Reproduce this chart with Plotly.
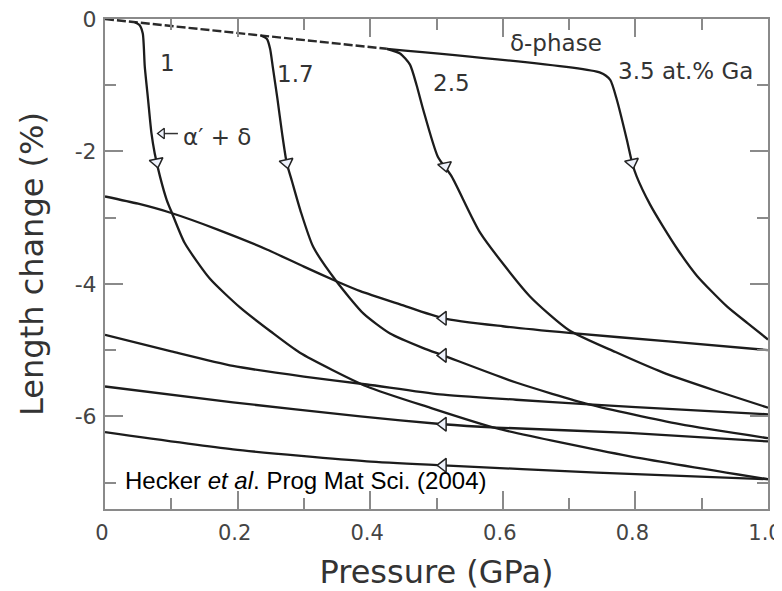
import plotly.graph_objects as go

# ---------------- data ----------------
# delta-phase compression line shared by all alloys (dashed part)
delta_x = [0.0, 0.425]
delta_y = [0.0, -0.45]

# loading curves (at.% Ga)
ga1_x = [0.045, 0.052, 0.057, 0.060, 0.065, 0.070, 0.075, 0.083, 0.093, 0.101, 0.120, 0.158, 0.204, 0.250, 0.294, 0.395, 0.49, 0.59, 0.79, 1.0]
ga1_y = [-0.05, -0.09, -0.22, -0.72, -1.22, -1.72, -2.03, -2.38, -2.73, -2.93, -3.38, -3.92, -4.36, -4.72, -5.04, -5.55, -5.87, -6.18, -6.60, -6.95]

ga17_x = [0.235, 0.244, 0.249, 0.253, 0.260, 0.267, 0.274, 0.282, 0.295, 0.314, 0.349, 0.39, 0.43, 0.48, 0.51, 0.62, 0.73, 0.867, 1.0]
ga17_y = [-0.25, -0.30, -0.45, -0.72, -1.20, -1.72, -2.17, -2.45, -2.90, -3.44, -3.96, -4.45, -4.75, -4.97, -5.08, -5.49, -5.82, -6.12, -6.33]

ga25_x = [0.425, 0.445, 0.460, 0.470, 0.480, 0.502, 0.523, 0.566, 0.641, 0.70, 0.77, 0.842, 0.92, 1.0]
ga25_y = [-0.45, -0.52, -0.69, -1.00, -1.37, -2.08, -2.38, -3.23, -4.19, -4.70, -5.03, -5.34, -5.61, -5.87]

ga35_x = [0.425, 0.747, 0.762, 0.772, 0.787, 0.795, 0.802, 0.822, 0.842, 0.865, 0.893, 0.938, 0.97, 1.0]
ga35_y = [-0.45, -0.81, -0.92, -1.22, -1.82, -2.17, -2.38, -2.80, -3.14, -3.50, -3.88, -4.34, -4.60, -4.84]

# unloading curves
ret_a_x = [0.0, 0.05, 0.1, 0.17, 0.244, 0.3, 0.349, 0.385, 0.445, 0.51, 0.6, 0.70, 0.85, 1.0]
ret_a_y = [-2.68, -2.79, -2.93, -3.18, -3.48, -3.74, -3.96, -4.11, -4.31, -4.52, -4.64, -4.74, -4.87, -5.00]

ret_b_x = [0.0, 0.1, 0.193, 0.3, 0.395, 0.505, 0.62, 0.73, 0.87, 1.0]
ret_b_y = [-4.77, -5.02, -5.24, -5.40, -5.52, -5.67, -5.75, -5.82, -5.90, -5.97]

ret_c_x = [0.0, 0.193, 0.385, 0.51, 0.59, 0.79, 1.0]
ret_c_y = [-5.55, -5.79, -6.00, -6.12, -6.17, -6.25, -6.38]

ret_d_x = [0.0, 0.193, 0.395, 0.51, 0.742, 1.0]
ret_d_y = [-6.24, -6.50, -6.68, -6.74, -6.85, -6.95]

# direction arrows
down_arrow_x = [0.078, 0.274, 0.513, 0.795]
down_arrow_y = [-2.16, -2.17, -2.22, -2.17]
left_arrow_x = [0.51, 0.51, 0.51, 0.51]
left_arrow_y = [-4.52, -5.08, -6.12, -6.74]

# text labels
label_text = ["1", "1.7", "2.5", "3.5 at.% Ga", "δ-phase", "α′ + δ"]
label_x = [0.094, 0.288, 0.522, 0.875, 0.68, 0.169]
label_y = [-0.66, -0.83, -0.97, -0.78, -0.36, -1.78]

# axis ticks
x_tickvals = [0.0, 0.2, 0.4, 0.6, 0.8, 1.0]
x_ticktext = ["0", "0.2", "0.4", "0.6", "0.8", "1.0"]
y_tickvals = [0, -2, -4, -6]
y_ticktext = ["0", "-2", "-4", "-6"]

# ---------------- figure ----------------
LINE = dict(color="#1c1c1c", width=2.3, shape="spline", smoothing=0.6)
AX = "#8a8a8a"
TXT = "#333333"
FONT = "DejaVu Sans"

fig = go.Figure()

fig.add_trace(go.Scatter(x=delta_x, y=delta_y, mode="lines",
                         line=dict(color="#2a2a2a", width=2.4, dash="9px,3px"),
                         showlegend=False, hoverinfo="skip"))
for xs, ys in [(ga1_x, ga1_y), (ga17_x, ga17_y), (ga25_x, ga25_y), (ga35_x, ga35_y),
               (ret_a_x, ret_a_y), (ret_b_x, ret_b_y), (ret_c_x, ret_c_y), (ret_d_x, ret_d_y)]:
    fig.add_trace(go.Scatter(x=xs, y=ys, mode="lines", line=LINE,
                             showlegend=False, hoverinfo="skip"))

fig.add_trace(go.Scatter(x=down_arrow_x, y=down_arrow_y, mode="markers",
                         marker=dict(symbol="triangle-down", size=12, angle=-12,
                                     color="#eef2fc", line=dict(color="#222", width=1.5)),
                         showlegend=False, hoverinfo="skip", cliponaxis=False))
fig.add_trace(go.Scatter(x=left_arrow_x, y=left_arrow_y, mode="markers",
                         marker=dict(symbol="triangle-left", size=12,
                                     color="#eef2fc", line=dict(color="#222", width=1.5)),
                         showlegend=False, hoverinfo="skip", cliponaxis=False))

# small pointer for the alpha'+delta label
fig.add_trace(go.Scatter(x=[0.085, 0.11], y=[-1.73, -1.73], mode="lines",
                         line=dict(color="#333", width=1.5),
                         showlegend=False, hoverinfo="skip"))
fig.add_trace(go.Scatter(x=[0.086], y=[-1.73], mode="markers",
                         marker=dict(symbol="triangle-left", size=9, color="#eef2fc",
                                     line=dict(color="#222", width=1.3)),
                         showlegend=False, hoverinfo="skip"))

for t, x, y in zip(label_text, label_x, label_y):
    fig.add_annotation(x=x, y=y, text=t, showarrow=False,
                       font=dict(family=FONT, size=23, color=TXT),
                       xanchor="center", yanchor="middle")

fig.add_annotation(x=0.027, y=-6.97, text="Hecker <i>et al</i>. Prog Mat Sci. (2004)",
                   showarrow=False, xanchor="left", yanchor="middle",
                   font=dict(family="Liberation Sans, Arial", size=24, color="#000"))

# the page shows the figure 8 px in from the top-left corner, so the margins
# below are measured from that offset
fig.update_layout(
    width=782, height=591,
    margin=dict(l=97, r=22, t=11, b=90, autoexpand=False),
    paper_bgcolor="white", plot_bgcolor="white",
    showlegend=False,
    xaxis=dict(range=[0, 1.0], showgrid=False, zeroline=False, automargin=False,
               showline=True, linecolor=AX, linewidth=2, mirror="allticks",
               ticks="inside", ticklen=18, tickwidth=1.5, tickcolor=AX,
               tickvals=x_tickvals, ticktext=x_ticktext, ticklabelstandoff=4,
               ticklabelshift=-3, ticklabeloverflow="allow",
               tickfont=dict(family=FONT, size=21, color="#444"),
               minor=dict(ticks="inside", ticklen=11, tickwidth=1.5, tickcolor=AX, dtick=0.1),
               title=dict(text="Pressure (GPa)", standoff=16,
                          font=dict(family=FONT, size=32, color=TXT))),
    yaxis=dict(range=[-7.4, 0], showgrid=False, zeroline=False, automargin=False,
               showline=True, linecolor=AX, linewidth=2, mirror="allticks",
               ticks="inside", ticklen=18, tickwidth=1.5, tickcolor=AX,
               tickvals=y_tickvals, ticktext=y_ticktext, ticklabelstandoff=2,
               ticklabeloverflow="allow",
               tickfont=dict(family=FONT, size=22, color="#444"),
               minor=dict(ticks="inside", ticklen=11, tickwidth=1.5, tickcolor=AX, dtick=1),
               title=dict(text="Length change (%)", standoff=21,
                          font=dict(family=FONT, size=32, color=TXT))),
)

fig.write_html("out.html")
